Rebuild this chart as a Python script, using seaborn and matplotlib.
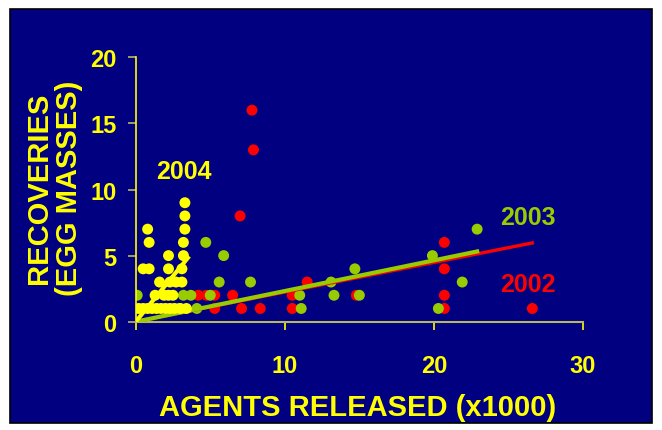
import seaborn as sns
import matplotlib
matplotlib.use("Agg")
import matplotlib.pyplot as plt
from matplotlib.patches import Rectangle
import pandas as pd

# released agents (x1000) and egg mass recoveries, per year
x_2002 = [0.0, 4.2, 4.75, 5.3, 5.3, 6.5, 7.0, 7.1, 7.8, 7.9, 8.35, 10.5, 10.5, 11.5, 14.8, 20.7, 20.7, 20.7, 20.7, 26.6]
y_2002 = [1, 2, 2, 2, 1, 2, 8, 1, 16, 13, 1, 2, 1, 3, 2, 6, 4, 2, 1, 1]

x_2003 = [0.1, 2.9, 3.2, 3.7, 4.1, 4.7, 5.0, 5.6, 5.9, 7.7, 11.0, 11.1, 13.1, 13.3, 14.7, 15.0, 19.9, 20.3, 21.9, 22.9]
y_2003 = [2, 1, 2, 2, 1, 6, 2, 3, 5, 3, 2, 1, 3, 2, 4, 2, 5, 1, 3, 7]

x_2004 = [3.3, 3.3, 0.8, 3.3, 0.9, 3.2, 2.2, 3.2, 0.5, 0.9, 2.2, 3.1, 1.6, 2.3, 2.7, 3.1,
          1.3, 1.9, 2.2, 2.5, 0.2, 0.5, 0.8, 1.1, 1.4, 1.7, 2.0, 2.3, 2.6, 3.0, 3.4]
y_2004 = [9, 8, 7, 7, 6, 6, 5, 5, 4, 4, 4, 4, 3, 3, 3, 3,
          2, 2, 2, 2, 1, 1, 1, 1, 1, 1, 1, 1, 1, 1, 1]

# fitted trend lines through origin: slope and x extent
years = ["2002", "2003", "2004"]
trend_slope = [0.224, 0.232, 1.38]
trend_xmax = [26.6, 22.9, 3.5]

colors = {"2002": "#FF0000", "2003": "#99CC00", "2004": "#FFFF00"}
navy = "#000080"
yellow = "#FFFF00"

df = pd.concat([
    pd.DataFrame({"x": x_2002, "y": y_2002, "year": "2002"}),
    pd.DataFrame({"x": x_2003, "y": y_2003, "year": "2003"}),
    pd.DataFrame({"x": x_2004, "y": y_2004, "year": "2004"}),
], ignore_index=True)

trend = pd.DataFrame({
    "x": [v for xm in trend_xmax for v in (0.0, xm)],
    "y": [v for s, xm in zip(trend_slope, trend_xmax) for v in (0.0, s * xm)],
    "year": [yr for yr in years for _ in (0, 1)],
})

plt.rcParams["font.family"] = ["Liberation Sans", "DejaVu Sans"]
plt.rcParams["font.weight"] = "bold"

fig = plt.figure(figsize=(6.62, 4.31), dpi=100, facecolor="white")
fig.patches.append(Rectangle((10 / 662, 7 / 431), 642 / 662, 414 / 431, transform=fig.transFigure,
                             facecolor=navy, edgecolor="black", linewidth=1.2, zorder=-5))
ax = fig.add_axes([135.7 / 662, 108.3 / 431, 447.3 / 662, 264.4 / 431])
ax.set_facecolor(navy)

older = df[df["year"] != "2004"]
sns.scatterplot(data=older, x="x", y="y", hue="year", palette=colors, s=62,
                edgecolor="none", legend=False, ax=ax, zorder=2)
t = trend[trend["year"] == "2002"]
sns.lineplot(data=t, x="x", y="y", color=colors["2002"], lw=2.4, ax=ax, zorder=3)
t = trend[trend["year"] == "2003"]
sns.lineplot(data=t, x="x", y="y", color=colors["2003"], lw=3.0, ax=ax, zorder=4)
sns.scatterplot(data=df[df["year"] == "2004"], x="x", y="y", color=colors["2004"], s=62,
                edgecolor="none", legend=False, ax=ax, zorder=5)
t = trend[trend["year"] == "2004"]
sns.lineplot(data=t, x="x", y="y", color=colors["2004"], lw=3.0, ax=ax, zorder=6)

ax.set_xlim(0, 30)
ax.set_ylim(0, 20)
ax.set_xticks([0, 10, 20, 30])
ax.set_yticks([0, 5, 10, 15, 20])
ax.set_xlabel("")
ax.set_ylabel("")
for side in ["top", "right"]:
    ax.spines[side].set_visible(False)
ax.spines["left"].set_color(yellow)
ax.spines["bottom"].set_color("#B8B860")
ax.spines["left"].set_linewidth(1.2)
ax.spines["bottom"].set_linewidth(1.5)
ax.tick_params(axis="y", colors="#B8B860", labelcolor=yellow, length=6, width=1.2,
               direction="out", pad=8, labelsize=17)
ax.tick_params(axis="x", colors=yellow, labelcolor=yellow, length=6, width=1.2,
               direction="out", pad=17, labelsize=17)

ax.text(3.23, 11.4, "2004", color=colors["2004"], fontsize=18, fontweight="bold", ha="center", va="center")
ax.text(26.3, 7.9, "2003", color=colors["2003"], fontsize=18, fontweight="bold", ha="center", va="center")
ax.text(26.3, 2.85, "2002", color=colors["2002"], fontsize=18, fontweight="bold", ha="center", va="center")

fig.text(358 / 662, 23 / 431, "AGENTS RELEASED (x1000)", color=yellow, fontsize=21,
         fontweight="bold", ha="center", va="center")
fig.text(54 / 662, 243 / 431, "RECOVERIES\n(EGG MASSES)", color=yellow, fontsize=21,
         fontweight="bold", ha="center", va="center", rotation=90, linespacing=1.08)

fig.savefig("out.png", dpi=100, facecolor="white")
